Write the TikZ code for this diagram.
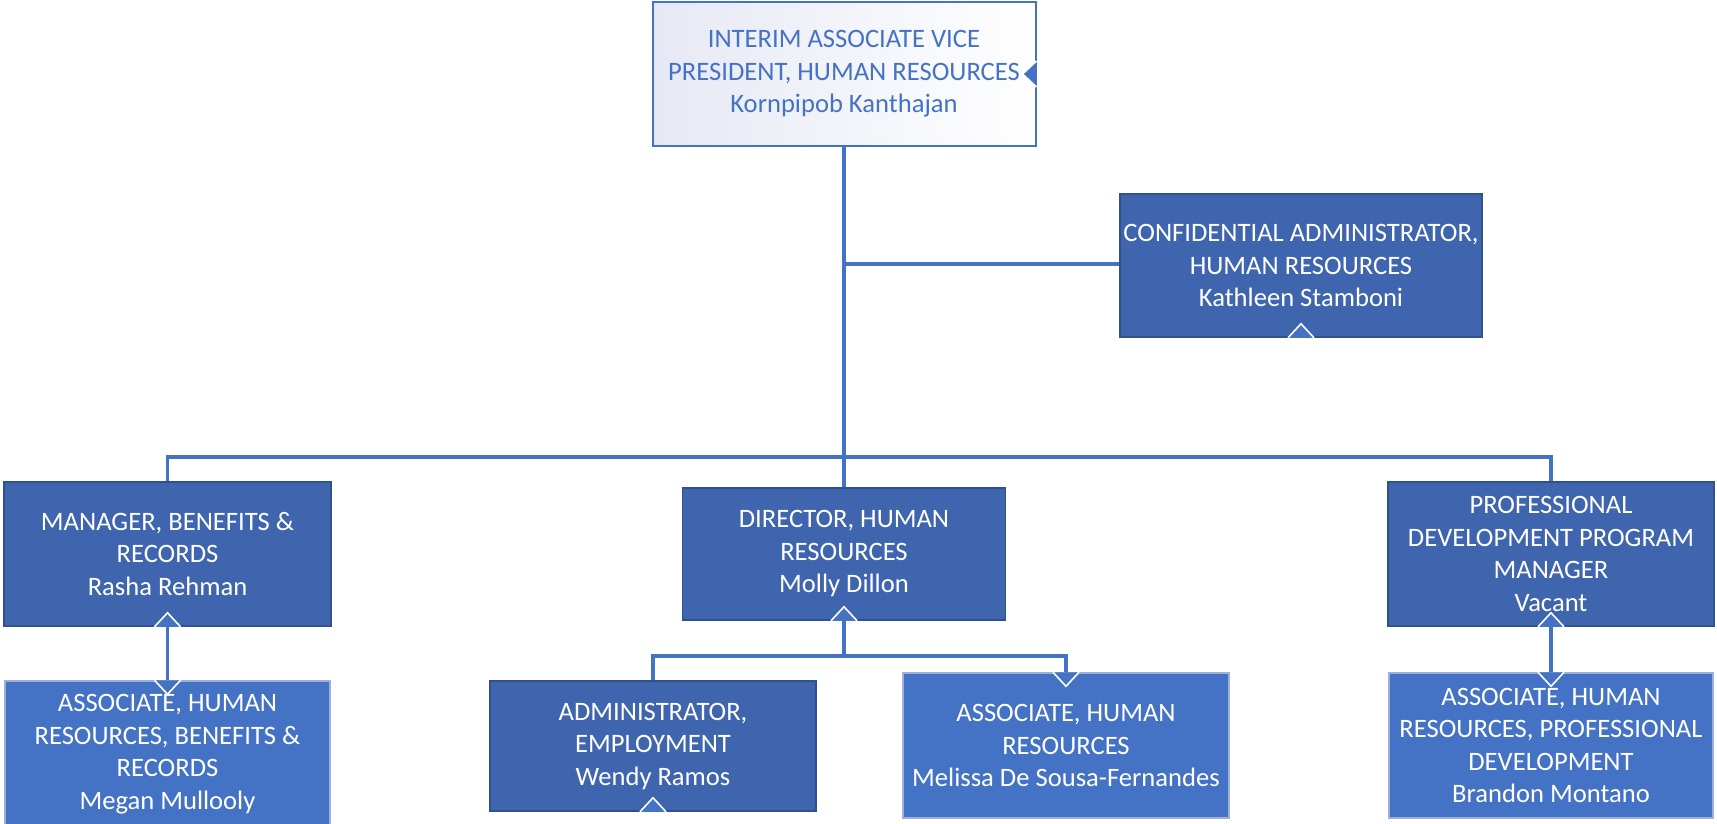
\documentclass[tikz,border=0pt]{standalone}
\usepackage{fontspec}
\setmainfont{Carlito}
\definecolor{linec}{HTML}{4472C4}
\definecolor{darkbox}{HTML}{3F65AE}
\definecolor{darkedge}{HTML}{2F528F}
\definecolor{lightbox}{HTML}{4472C4}
\definecolor{lightedge}{HTML}{9DB0DA}
\definecolor{topfill}{HTML}{E6E9F4}
\begin{document}
\begin{tikzpicture}[x=1pt,y=1pt,
  every node/.style={font=\fontsize{26.6}{32.5}\selectfont, align=center, inner sep=0pt},
  dbox/.style={rectangle, fill=darkbox, draw=darkedge, line width=1.5pt, text=white},
  lbox/.style={rectangle, fill=lightbox, draw=lightedge, line width=1.5pt, text=white},
  conn/.style={draw=linec, line width=3.5pt},
  mkfill/.style={fill=linec},
  mkline/.style={draw=white, line width=1.6pt, line join=miter}]
\useasboundingbox (0,0) rectangle (1717,-823);
% nodes
\node[rectangle, draw=linec, line width=2pt, left color=topfill, right color=white, text=linec,
      minimum width=383, minimum height=144] (top) at (844,-74)
      {INTERIM ASSOCIATE VICE\\PRESIDENT, HUMAN RESOURCES\\Kornpipob Kanthajan};
\node[dbox, minimum width=362, minimum height=143] (conf) at (1301,-265.5)
      {CONFIDENTIAL ADMINISTRATOR,\\HUMAN RESOURCES\\Kathleen Stamboni};
\node[dbox, minimum width=327, minimum height=144] (mgr) at (167.5,-554)
      {MANAGER, BENEFITS \&\\RECORDS\\Rasha Rehman};
\node[dbox, minimum width=323, minimum height=132] (dir) at (844,-554)
      {DIRECTOR, HUMAN\\RESOURCES\\Molly Dillon};
\node[dbox, minimum width=326, minimum height=144] (pdpm) at (1551,-554)
      {PROFESSIONAL\\DEVELOPMENT PROGRAM\\MANAGER\\Vacant};
\node[lbox, minimum width=325, minimum height=146] (asb) at (167.5,-754)
      {ASSOCIATE, HUMAN\\RESOURCES, BENEFITS \&\\RECORDS\\Megan Mullooly};
\node[dbox, minimum width=326, minimum height=130] (adm) at (653,-746)
      {ADMINISTRATOR,\\EMPLOYMENT\\Wendy Ramos};
\node[lbox, minimum width=326, minimum height=145] (mel) at (1066,-745.5)
      {ASSOCIATE, HUMAN\\RESOURCES\\Melissa De Sousa-Fernandes};
\node[lbox, minimum width=324, minimum height=145] (bra) at (1551,-745.5)
      {ASSOCIATE, HUMAN\\RESOURCES, PROFESSIONAL\\DEVELOPMENT\\Brandon Montano};
% junctions
\coordinate (j1) at (844,-264);
\coordinate (bus) at (844,-457);
\coordinate (j2) at (844,-656);
% connectors
\draw[conn] (top.south) -- (dir.north);
\draw[conn] (j1) -- (j1 -| conf.west);
\draw[conn] (mgr.north) |- (bus) -| (pdpm.north);
\draw[conn] (mgr.south) -- (asb.north);
\draw[conn] (pdpm.south) -- (bra.north);
\draw[conn] (dir.south) -- (j2);
\draw[conn] (adm.north) |- (j2) -| (mel.north);
% markers (up at south anchors)
\foreach \a in {conf.south, mgr.south, dir.south, pdpm.south, adm.south}{
  \begin{scope}[shift={(\a)}]
    \fill[mkfill] (-13,0) -- (0,14) -- (13,0) -- cycle;
    \draw[mkline] (-13,0) -- (0,14) -- (13,0);
  \end{scope}
}
% markers (down at north anchors)
\foreach \a in {asb.north, mel.north, bra.north}{
  \begin{scope}[shift={(\a)}]
    \fill[mkfill] (-13,0) -- (0,-14) -- (13,0) -- cycle;
    \draw[mkline] (-13,0) -- (0,-14) -- (13,0);
  \end{scope}
}
% marker (left at top box east)
\begin{scope}[shift={(top.east)}]
  \fill[mkfill] (0,13) -- (-14,0) -- (0,-13) -- cycle;
  \draw[mkline] (0,13) -- (-14,0) -- (0,-13);
\end{scope}
\end{tikzpicture}
\end{document}
